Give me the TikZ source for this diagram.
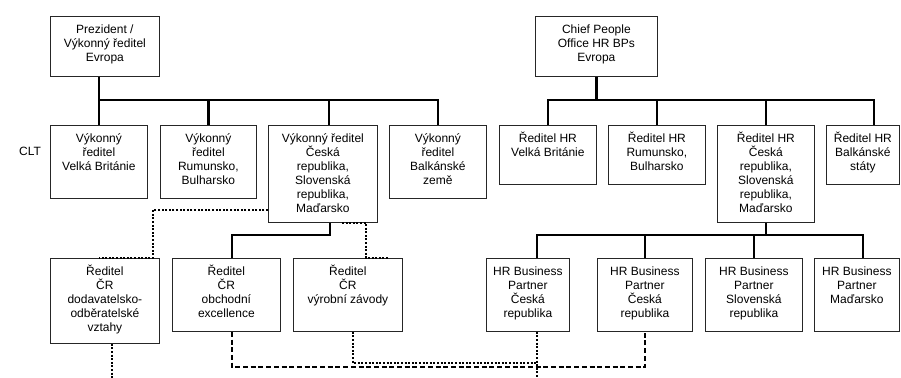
\documentclass[tikz,border=0pt]{standalone}
\usepackage{fontspec}
\setmainfont{Liberation Sans}
\newcommand\bt[3]{\parbox[c][#2pt][t]{#1pt}{\centering\rule{0pt}{17.5pt}#3\par}}
\begin{document}
\begin{tikzpicture}[x=1pt,y=-1pt,
  box/.style={draw=black!85, line width=0.8pt, inner sep=0pt, anchor=north west, font=\fontsize{12}{14}\selectfont},
  conn/.style={line width=2.8pt},
  dots/.style={line width=2.6pt, dash pattern=on 2pt off 1.6pt},
  dashline/.style={line width=2pt, dash pattern=on 5pt off 2.7pt}]
\useasboundingbox (0,0) rectangle (901,377);
% top
\node[box] (P) at (50,16) {\bt{109}{60}{Prezident /\\Výkonný ředitel\\Evropa}};
\node[box] (C) at (535,16) {\bt{122}{60}{Chief People\\Office HR BPs\\Evropa}};
% second row left
\node[box] (b1) at (50,125) {\bt{97}{73}{Výkonný\\ředitel\\Velká Británie}};
\node[box] (b2) at (160,125) {\bt{96}{73}{Výkonný\\ředitel\\Rumunsko,\\Bulharsko}};
\node[box] (b3) at (268,125) {\bt{109}{97}{Výkonný ředitel\\Česká\\republika,\\Slovenská\\republika,\\Maďarsko}};
\node[box] (b4) at (389,125) {\bt{97}{73}{Výkonný\\ředitel\\Balkánské\\země}};
% second row right
\node[box] (h1) at (499,125) {\bt{97}{59}{Ředitel HR\\Velká Británie}};
\node[box] (h2) at (608,125) {\bt{97}{59}{Ředitel HR\\Rumunsko,\\Bulharsko}};
\node[box] (h3) at (717,125) {\bt{97}{97}{Ředitel HR\\Česká\\republika,\\Slovenská\\republika,\\Maďarsko}};
\node[box] (h4) at (826,125) {\bt{73}{59}{Ředitel HR\\Balkánské\\státy}};
% third row left
\node[box] (d1) at (50,258) {\bt{109}{85}{Ředitel\\ČR\\dodavatelsko-\\odběratelské\\vztahy}};
\node[box] (d2) at (172,258) {\bt{108}{73}{Ředitel\\ČR\\obchodní\\excellence}};
\node[box] (d3) at (293,258) {\bt{109}{73}{Ředitel\\ČR\\výrobní závody}};
% third row right
\node[box] (p1) at (486,258) {\bt{83}{73}{HR Business\\Partner\\Česká\\republika}};
\node[box] (p2) at (597,258) {\bt{95}{73}{HR Business\\Partner\\Česká\\republika}};
\node[box] (p3) at (705,258) {\bt{97}{73}{HR Business\\Partner\\Slovenská\\republika}};
\node[box] (p4) at (814,258) {\bt{85}{73}{HR Business\\Partner\\Maďarsko}};
% label
\node[font=\fontsize{12}{14}\selectfont, inner sep=0pt] (clt) at (30,151.7) {CLT};
% coordinates
\coordinate (busL) at (0,100);
\coordinate (busR) at (0,235);
\coordinate (k3) at (329,100);
\coordinate (k8) at (874,100);
\coordinate (q1) at (537,235);
\coordinate (q4) at (863,235);
\coordinate (s1) at (330,235);
\coordinate (s2) at (232,235);
\coordinate (t1) at (153,210);
\coordinate (t2) at (99,258);
\coordinate (u1) at (342,222);
\coordinate (u2) at (366,222);
\coordinate (u3) at (388,258);
\coordinate (v) at (0,367);
\coordinate (w1) at (353,363);
\coordinate (w2) at (536,363);
\coordinate (w3) at (537,380);
\coordinate (w4) at (112,380);
% solid connectors
\draw[conn] (P.south -| b1.north) -- (b1.north);
\draw[conn] (b1.north |- busL) -| (b4.north);
\draw[conn] (b2.north |- busL) -- (b2.north);
\draw[conn] (k3) -- (k3 |- b3.north);
\draw[conn] (C.south) -- (C.south |- busL);
\draw[conn] (h1.north) -- (h1.north |- busL) -- (k8) -- (k8 |- h4.north);
\draw[conn] (h2.north |- busL) -- (h2.north);
\draw[conn] (h3.north |- busL) -- (h3.north);
\draw[conn] (h3.south -| 766,0) -- (766,235);
\draw[conn] (q1 |- p1.north) -- (q1) -- (q4) -- (q4 |- p4.north);
\draw[conn] (p2.north |- busR) -- (p2.north);
\draw[conn] (p3.north |- busR) -- (p3.north);
\draw[conn] (s1 |- b3.south) -- (s1) -- (s2) -- (s2 |- d2.north);
% dotted
\draw[dots] (b3.west |- t1) -- (t1) -- (t1 |- t2) -- (t2);
\draw[dots] (u1 |- b3.south) -- (u2 |- b3.south) -- (u2 |- u3) -- (u3);
\draw[dots] (w1 |- d3.south) -- (w1) -- (w2);
\draw[dots] (w3 |- p1.south) -- (w3);
\draw[dots] (w4 |- d1.south) -- (w4);
% dashed
\draw[dashline] (s2 |- d2.south) -- (s2 |- v) -- (p2.south |- v) -- (p2.south);
\end{tikzpicture}
\end{document}
